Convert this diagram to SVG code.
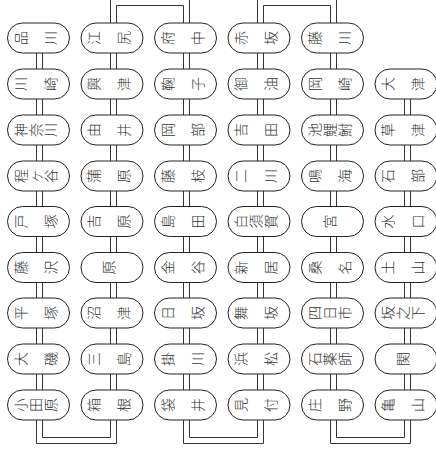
<svg xmlns="http://www.w3.org/2000/svg" width="436" height="450" viewBox="0 0 436 450">
<style>
.node rect{fill:#fff;stroke:#222;stroke-width:1}
.node text{font-family:"Noto Sans CJK JP","Noto Sans CJK SC",sans-serif;font-size:14px;font-weight:300;fill:#333;text-anchor:middle;dominant-baseline:central}
#connectors path{fill:none;stroke:#333;stroke-width:1}
</style>
<rect width="436" height="450" fill="#fff"/>
<g id="connectors">
<path d="M36.5 53V69M36.5 99V115M36.5 145V161M36.5 191V206.5M36.5 236.5V252.5M36.5 282.5V298M36.5 328V344M36.5 374V390"/>
<path d="M42.5 53V69M42.5 99V115M42.5 145V161M42.5 191V206.5M42.5 236.5V252.5M42.5 282.5V298M42.5 328V344M42.5 374V390"/>
<path d="M110.5 53V69M110.5 99V115M110.5 145V161M110.5 191V206.5M110.5 236.5V252.5M110.5 282.5V298M110.5 328V344M110.5 374V390"/>
<path d="M116.5 53V69M116.5 99V115M116.5 145V161M116.5 191V206.5M116.5 236.5V252.5M116.5 282.5V298M116.5 328V344M116.5 374V390"/>
<path d="M183.5 53V69M183.5 99V115M183.5 145V161M183.5 191V206.5M183.5 236.5V252.5M183.5 282.5V298M183.5 328V344M183.5 374V390"/>
<path d="M189.5 53V69M189.5 99V115M189.5 145V161M189.5 191V206.5M189.5 236.5V252.5M189.5 282.5V298M189.5 328V344M189.5 374V390"/>
<path d="M257.5 53V69M257.5 99V115M257.5 145V161M257.5 191V206.5M257.5 236.5V252.5M257.5 282.5V298M257.5 328V344M257.5 374V390"/>
<path d="M263.5 53V69M263.5 99V115M263.5 145V161M263.5 191V206.5M263.5 236.5V252.5M263.5 282.5V298M263.5 328V344M263.5 374V390"/>
<path d="M330.5 53V69M330.5 99V115M330.5 145V161M330.5 191V206.5M330.5 236.5V252.5M330.5 282.5V298M330.5 328V344M330.5 374V390"/>
<path d="M336.5 53V69M336.5 99V115M336.5 145V161M336.5 191V206.5M336.5 236.5V252.5M336.5 282.5V298M336.5 328V344M336.5 374V390"/>
<path d="M404.5 99V115M404.5 145V161M404.5 191V206.5M404.5 236.5V252.5M404.5 282.5V298M404.5 328V344M404.5 374V390"/>
<path d="M410.5 99V115M410.5 145V161M410.5 191V206.5M410.5 236.5V252.5M410.5 282.5V298M410.5 328V344M410.5 374V390"/>
<path d="M36.5 420V443.5H116.5V420M42.5 420V437.5H110.5V420"/>
<path d="M183.5 420V443.5H263.5V420M189.5 420V437.5H257.5V420"/>
<path d="M330.5 420V443.5H410.5V420M336.5 420V437.5H404.5V420"/>
<path d="M110.5 23V-2H189.5V23M116.5 23V5.5H183.5V23"/>
<path d="M257.5 23V-2H336.5V23M263.5 23V5.5H330.5V23"/>
</g>
<g id="n-shinagawa" class="node"><rect x="7.5" y="23" width="62" height="30" rx="15"/><text transform="rotate(-90 38.5 38)" x="38.5 38.5" y="19 49">品川</text></g>
<g id="n-kawasaki" class="node"><rect x="7.5" y="69" width="62" height="30" rx="15"/><text transform="rotate(-90 38.5 84)" x="38.5 38.5" y="65 95">川崎</text></g>
<g id="n-kanagawa" class="node"><rect x="7.5" y="115" width="62" height="30" rx="15"/><text transform="rotate(-90 38.5 130)" x="38.5 38.5 38.5" y="111 126 141">神奈川</text></g>
<g id="n-hodogaya" class="node"><rect x="7.5" y="161" width="62" height="30" rx="15"/><text transform="rotate(-90 38.5 176)" x="38.5 38.5 38.5" y="157 172 187">程ヶ谷</text></g>
<g id="n-totsuka" class="node"><rect x="7.5" y="206.5" width="62" height="30" rx="15"/><text transform="rotate(-90 38.5 221.5)" x="38.5 38.5" y="202.5 232.5">戸塚</text></g>
<g id="n-fujisawa" class="node"><rect x="7.5" y="252.5" width="62" height="30" rx="15"/><text transform="rotate(-90 38.5 267.5)" x="38.5 38.5" y="248.5 278.5">藤沢</text></g>
<g id="n-hiratsuka" class="node"><rect x="7.5" y="298" width="62" height="30" rx="15"/><text transform="rotate(-90 38.5 313)" x="38.5 38.5" y="294 324">平塚</text></g>
<g id="n-oiso" class="node"><rect x="7.5" y="344" width="62" height="30" rx="15"/><text transform="rotate(-90 38.5 359)" x="38.5 38.5" y="340 370">大磯</text></g>
<g id="n-odawara" class="node"><rect x="7.5" y="390" width="62" height="30" rx="15"/><text transform="rotate(-90 38.5 405)" x="38.5 38.5 38.5" y="386 401 416">小田原</text></g>

<g id="n-ejiri" class="node"><rect x="81" y="23" width="62" height="30" rx="15"/><text transform="rotate(-90 112 38)" x="112 112" y="19 49">江尻</text></g>
<g id="n-okitsu" class="node"><rect x="81" y="69" width="62" height="30" rx="15"/><text transform="rotate(-90 112 84)" x="112 112" y="65 95">興津</text></g>
<g id="n-yui" class="node"><rect x="81" y="115" width="62" height="30" rx="15"/><text transform="rotate(-90 112 130)" x="112 112" y="111 141">由井</text></g>
<g id="n-kambara" class="node"><rect x="81" y="161" width="62" height="30" rx="15"/><text transform="rotate(-90 112 176)" x="112 112" y="157 187">蒲原</text></g>
<g id="n-yoshiwara" class="node"><rect x="81" y="206.5" width="62" height="30" rx="15"/><text transform="rotate(-90 112 221.5)" x="112 112" y="202.5 232.5">吉原</text></g>
<g id="n-hara" class="node"><rect x="81" y="252.5" width="62" height="30" rx="15"/><text transform="rotate(-90 112 267.5)" x="112" y="263.5">原</text></g>
<g id="n-numazu" class="node"><rect x="81" y="298" width="62" height="30" rx="15"/><text transform="rotate(-90 112 313)" x="112 112" y="294 324">沼津</text></g>
<g id="n-mishima" class="node"><rect x="81" y="344" width="62" height="30" rx="15"/><text transform="rotate(-90 112 359)" x="112 112" y="340 370">三島</text></g>
<g id="n-hakone" class="node"><rect x="81" y="390" width="62" height="30" rx="15"/><text transform="rotate(-90 112 405)" x="112 112" y="386 416">箱根</text></g>

<g id="n-fuchu" class="node"><rect x="154.5" y="23" width="62" height="30" rx="15"/><text transform="rotate(-90 185.5 38)" x="185.5 185.5" y="19 49">府中</text></g>
<g id="n-mariko" class="node"><rect x="154.5" y="69" width="62" height="30" rx="15"/><text transform="rotate(-90 185.5 84)" x="185.5 185.5" y="65 95">鞠子</text></g>
<g id="n-okabe" class="node"><rect x="154.5" y="115" width="62" height="30" rx="15"/><text transform="rotate(-90 185.5 130)" x="185.5 185.5" y="111 141">岡部</text></g>
<g id="n-fujieda" class="node"><rect x="154.5" y="161" width="62" height="30" rx="15"/><text transform="rotate(-90 185.5 176)" x="185.5 185.5" y="157 187">藤枝</text></g>
<g id="n-shimada" class="node"><rect x="154.5" y="206.5" width="62" height="30" rx="15"/><text transform="rotate(-90 185.5 221.5)" x="185.5 185.5" y="202.5 232.5">島田</text></g>
<g id="n-kanaya" class="node"><rect x="154.5" y="252.5" width="62" height="30" rx="15"/><text transform="rotate(-90 185.5 267.5)" x="185.5 185.5" y="248.5 278.5">金谷</text></g>
<g id="n-nissaka" class="node"><rect x="154.5" y="298" width="62" height="30" rx="15"/><text transform="rotate(-90 185.5 313)" x="185.5 185.5" y="294 324">日坂</text></g>
<g id="n-kakegawa" class="node"><rect x="154.5" y="344" width="62" height="30" rx="15"/><text transform="rotate(-90 185.5 359)" x="185.5 185.5" y="340 370">掛川</text></g>
<g id="n-fukuroi" class="node"><rect x="154.5" y="390" width="62" height="30" rx="15"/><text transform="rotate(-90 185.5 405)" x="185.5 185.5" y="386 416">袋井</text></g>

<g id="n-akasaka" class="node"><rect x="228" y="23" width="62" height="30" rx="15"/><text transform="rotate(-90 259 38)" x="259 259" y="19 49">赤坂</text></g>
<g id="n-goyu" class="node"><rect x="228" y="69" width="62" height="30" rx="15"/><text transform="rotate(-90 259 84)" x="259 259" y="65 95">御油</text></g>
<g id="n-yoshida" class="node"><rect x="228" y="115" width="62" height="30" rx="15"/><text transform="rotate(-90 259 130)" x="259 259" y="111 141">吉田</text></g>
<g id="n-futagawa" class="node"><rect x="228" y="161" width="62" height="30" rx="15"/><text transform="rotate(-90 259 176)" x="259 259" y="157 187">二川</text></g>
<g id="n-shirasuka" class="node"><rect x="228" y="206.5" width="62" height="30" rx="15"/><text transform="rotate(-90 259 221.5)" x="259 259 259" y="202.5 217.5 232.5">白須賀</text></g>
<g id="n-arai" class="node"><rect x="228" y="252.5" width="62" height="30" rx="15"/><text transform="rotate(-90 259 267.5)" x="259 259" y="248.5 278.5">新居</text></g>
<g id="n-maisaka" class="node"><rect x="228" y="298" width="62" height="30" rx="15"/><text transform="rotate(-90 259 313)" x="259 259" y="294 324">舞坂</text></g>
<g id="n-hamamatsu" class="node"><rect x="228" y="344" width="62" height="30" rx="15"/><text transform="rotate(-90 259 359)" x="259 259" y="340 370">浜松</text></g>
<g id="n-mitsuke" class="node"><rect x="228" y="390" width="62" height="30" rx="15"/><text transform="rotate(-90 259 405)" x="259 259" y="386 416">見付</text></g>

<g id="n-fujikawa" class="node"><rect x="301.5" y="23" width="62" height="30" rx="15"/><text transform="rotate(-90 332.5 38)" x="332.5 332.5" y="19 49">藤川</text></g>
<g id="n-okazaki" class="node"><rect x="301.5" y="69" width="62" height="30" rx="15"/><text transform="rotate(-90 332.5 84)" x="332.5 332.5" y="65 95">岡崎</text></g>
<g id="n-chiryu" class="node"><rect x="301.5" y="115" width="62" height="30" rx="15"/><text transform="rotate(-90 332.5 130)" x="332.5 332.5 332.5" y="111 126 141">池鯉鮒</text></g>
<g id="n-narumi" class="node"><rect x="301.5" y="161" width="62" height="30" rx="15"/><text transform="rotate(-90 332.5 176)" x="332.5 332.5" y="157 187">鳴海</text></g>
<g id="n-miya" class="node"><rect x="301.5" y="206.5" width="62" height="30" rx="15"/><text transform="rotate(-90 332.5 221.5)" x="332.5" y="217.5">宮</text></g>
<g id="n-kuwana" class="node"><rect x="301.5" y="252.5" width="62" height="30" rx="15"/><text transform="rotate(-90 332.5 267.5)" x="332.5 332.5" y="248.5 278.5">桑名</text></g>
<g id="n-yokkaichi" class="node"><rect x="301.5" y="298" width="62" height="30" rx="15"/><text transform="rotate(-90 332.5 313)" x="332.5 332.5 332.5" y="294 309 324">四日市</text></g>
<g id="n-ishiyakushi" class="node"><rect x="301.5" y="344" width="62" height="30" rx="15"/><text transform="rotate(-90 332.5 359)" x="332.5 332.5 332.5" y="340 355 370">石薬師</text></g>
<g id="n-shono" class="node"><rect x="301.5" y="390" width="62" height="30" rx="15"/><text transform="rotate(-90 332.5 405)" x="332.5 332.5" y="386 416">庄野</text></g>

<g id="n-otsu" class="node"><rect x="375" y="69" width="62" height="30" rx="15"/><text transform="rotate(-90 406 84)" x="406 406" y="65 95">大津</text></g>
<g id="n-kusatsu" class="node"><rect x="375" y="115" width="62" height="30" rx="15"/><text transform="rotate(-90 406 130)" x="406 406" y="111 141">草津</text></g>
<g id="n-ishibe" class="node"><rect x="375" y="161" width="62" height="30" rx="15"/><text transform="rotate(-90 406 176)" x="406 406" y="157 187">石部</text></g>
<g id="n-minakuchi" class="node"><rect x="375" y="206.5" width="62" height="30" rx="15"/><text transform="rotate(-90 406 221.5)" x="406 406" y="202.5 232.5">水口</text></g>
<g id="n-tsuchiyama" class="node"><rect x="375" y="252.5" width="62" height="30" rx="15"/><text transform="rotate(-90 406 267.5)" x="406 406" y="248.5 278.5">土山</text></g>
<g id="n-sakanoshita" class="node"><rect x="375" y="298" width="62" height="30" rx="15"/><text transform="rotate(-90 406 313)" x="406 406 406" y="294 309 324">坂之下</text></g>
<g id="n-seki" class="node"><rect x="375" y="344" width="62" height="30" rx="15"/><text transform="rotate(-90 406 359)" x="406" y="355">関</text></g>
<g id="n-kameyama" class="node"><rect x="375" y="390" width="62" height="30" rx="15"/><text transform="rotate(-90 406 405)" x="406 406" y="386 416">亀山</text></g>
</svg>
